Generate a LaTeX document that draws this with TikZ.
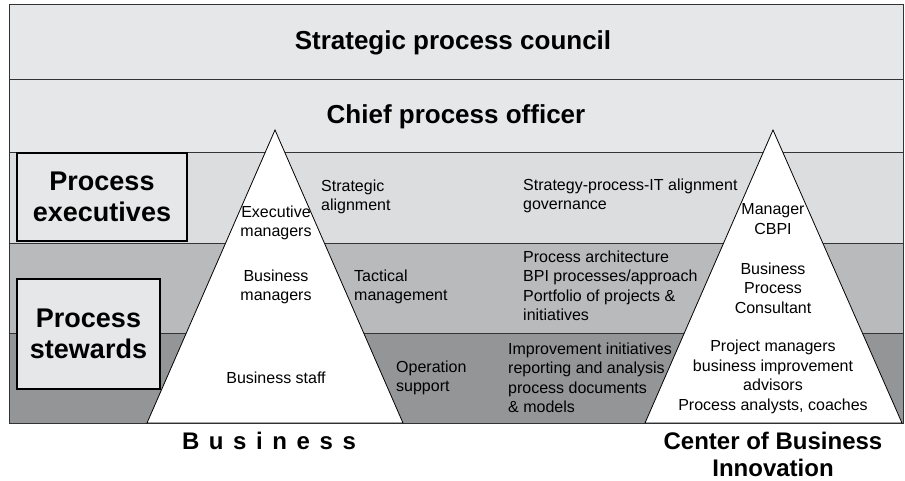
\documentclass[tikz,border=0pt]{standalone}
\usepackage{fontspec}
\setmainfont{Liberation Sans}
\usetikzlibrary{positioning}
\definecolor{bandlight}{HTML}{E6E7E8}
\definecolor{bandexec}{HTML}{DCDDDF}
\definecolor{bandtact}{HTML}{B9BABC}
\definecolor{bandoper}{HTML}{949597}
\definecolor{linegray}{HTML}{333333}
\tikzset{
  band/.style={draw=linegray, line width=.8pt},
  rolebox/.style={draw=black, line width=2pt, fill=bandlight, align=center,
    font=\fontsize{27}{31}\selectfont\bfseries},
  pyramid/.style={draw=black, line width=.8pt, fill=white},
  head/.style={font=\fontsize{26}{30}\selectfont\bfseries},
  small/.style={font=\fontsize{16}{19.5}\selectfont, align=left, anchor=west, inner sep=0pt},
  inner/.style={font=\fontsize{16}{19.5}\selectfont, align=center, inner sep=0pt},
  foot/.style={font=\fontsize{24}{27}\selectfont\bfseries, align=center},
}

\begin{document}
\begin{tikzpicture}[x=1pt,y=-1pt]
  % picture frame, pixel coordinates
  \useasboundingbox (0,0) rectangle (905,481);
  \pgfmathsetmacro{\xl}{9}
  \pgfmathsetmacro{\xr}{903}

  % Bands from top to bottom
  \fill[bandlight] (\xl,4) rectangle (\xr,152);
  \fill[bandexec] (\xl,152) rectangle (\xr,243);
  \fill[bandtact] (\xl,243) rectangle (\xr,333);
  \fill[bandoper] (\xl,333) rectangle (\xr,423);
  \foreach \y in {79, 152, 243, 333} {
    \draw[band] (\xl,\y) -- (\xr,\y); }
  \draw[band] (\xl,4) rectangle (\xr,423);

  \node[head] (council) at (453,43) {Strategic process council};
  \node[head] (cpo) at (456,117) {Chief process officer};

  % Role boxes on the left
  \node[rolebox, minimum width=170, minimum height=88] (exec) at (102,197) {Process\\executives};
  \node[rolebox, minimum width=143, minimum height=110] (stew) at (88.5,334) {Process\\stewards};

  % The two pyramids
  \coordinate (bizTop) at (275,130);
  \coordinate (bizL) at (147,423);
  \coordinate (bizR) at (403,423);
  \coordinate (cbiTop) at (773,130);
  \coordinate (cbiL) at (645,423);
  \coordinate (cbiR) at (902,423);
  \draw[pyramid] (bizTop) -- (bizL) -- (bizR) -- cycle;
  \draw[pyramid] (cbiTop) -- (cbiL) -- (cbiR) -- cycle;

  % Business pyramid
  \node[inner] (execmgr) at (276,223) {Executive\\managers};
  \node[inner] (busmgr) at (276,287) {Business\\managers};
  \node[inner] (staff) at (276,378) {Business staff};

  % Middle texts
  \node[small] (stratal) at (321,197) {Strategic\\alignment};
  \node[small] (tactmgt) at (354,287) {Tactical\\management};
  \node[small] (opsup) at (396,378) {Operation\\support};
  \node[small] (itgov) at (523,196) {Strategy-process-IT alignment\\governance};
  \node[small] (arch) at (523,286) {Process architecture\\BPI processes/approach\\Portfolio of projects \&\\initiatives};
  \node[small] (improve) at (508,378) {Improvement initiatives\\reporting and analysis\\process documents\\\& models};

  % Center of business innovation pyramid
  \node[inner] (cbpi) at (773,219) {Manager\\CBPI};
  \node[inner] (consult) at (773,288) {Business\\Process\\Consultant};
  \node[inner] (projmgr) at (773,377) {Project managers\\business improvement\\advisors\\Process analysts, coaches};

  % Captions below
  \node[foot] (biz) at (269,441) {\addfontfeature{LetterSpace=40}Business};
  \node[foot] (cbi) at (773,454.5) {Center of Business\\Innovation};
\end{tikzpicture}
\end{document}
